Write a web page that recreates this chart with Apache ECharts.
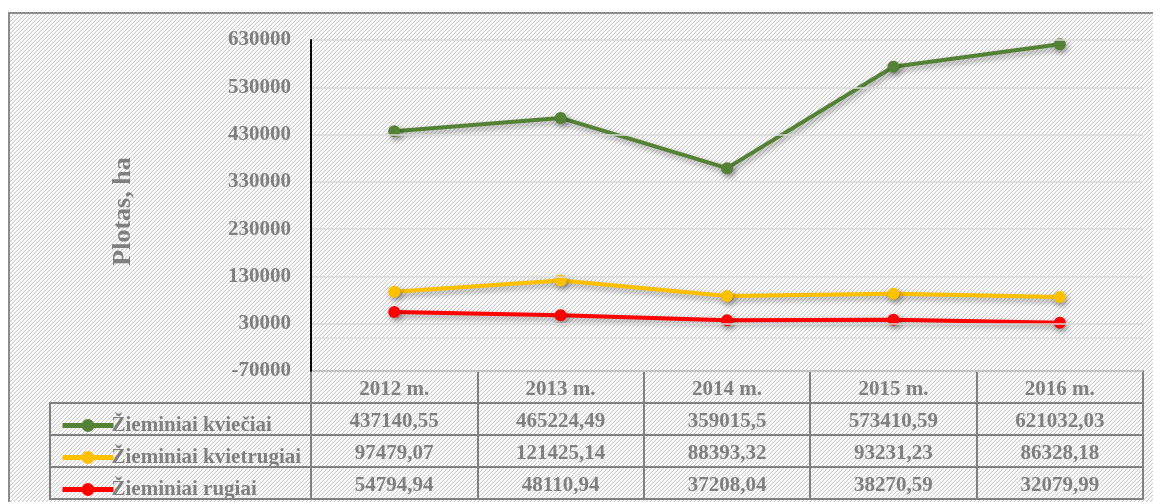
<!DOCTYPE html>
<html>
<head>
<meta charset="utf-8">
<script src="https://cdn.jsdelivr.net/npm/echarts@6/dist/echarts.min.js"></script>
<style>
  html, body { margin: 0; padding: 0; background: #fff; }
  #chart { width: 1153px; height: 502px; }
</style>
</head>
<body>
<div id="chart"></div>
<script>
// duomenys
const years = ['2012 m.', '2013 m.', '2014 m.', '2015 m.', '2016 m.']
const kvieciai = [437140.55, 465224.49, 359015.5, 573410.59, 621032.03]
const kvietrugiai = [97479.07, 121425.14, 88393.32, 93231.23, 86328.18]
const rugiai = [54794.94, 48110.94, 37208.04, 38270.59, 32079.99]
const seriesNames = ['Žieminiai kviečiai', 'Žieminiai kvietrugiai', 'Žieminiai rugiai']
const seriesColors = ['#548235', '#ffc000', '#ff0000']

const fontFam = "'Liberation Serif', 'Times New Roman', serif"
const txtColor = '#7f7f7f'
const tableLine = '#808080'

// lt formatas: kablelis vietoj taško
const fmt = (v) => String(v).replace('.', ',')

// įstrižų linijų fonas
const makeHatch = () => {
  const c = document.createElement('canvas')
  c.width = 4
  c.height = 4
  const ctx = c.getContext('2d')
  const img = ctx.createImageData(4, 4)
  for (let y = 0; y < 4; y++) {
    for (let x = 0; x < 4; x++) {
      const i = (y * 4 + x) * 4
      const d = (x + y) % 4
      const v = d === 3 ? 205 : d === 2 ? 238 : 255
      img.data[i] = v
      img.data[i + 1] = v
      img.data[i + 2] = v
      img.data[i + 3] = 255
    }
  }
  ctx.putImageData(img, 0, 0)
  return c
}

const labelStyle = { fontFamily: fontFam, fontWeight: 'bold', fontSize: 21, color: txtColor }
const shadow = { shadowColor: 'rgba(0,0,0,0.4)', shadowBlur: 6, shadowOffsetX: 2, shadowOffsetY: 3 }

const makeSeries = (name, data, color) => ({
  name: name,
  type: 'line',
  data: data,
  symbol: 'circle',
  symbolSize: 12,
  color: color,
  lineStyle: Object.assign({ width: 4 }, shadow),
  itemStyle: Object.assign({}, shadow),
  emphasis: { disabled: true },
})

// legenda kiekvienai eilutei atskirai
const makeLegend = (name, top) => ({
  orient: 'horizontal',
  left: 55,
  top: top,
  itemWidth: 51,
  itemHeight: 16,
  selectedMode: false,
  data: [name],
  lineStyle: { width: 5, shadowBlur: 0, shadowOffsetX: 0, shadowOffsetY: 0 },
  itemStyle: { shadowBlur: 0, shadowOffsetX: 0, shadowOffsetY: 0 },
  textStyle: { fontFamily: fontFam, fontWeight: 'bold', fontSize: 21, color: txtColor, padding: [0, 0, 0, -7] },
})

// lentelės eilutės kaip papildomos x ašys
const rowAxis = (values, offset) => ({
  type: 'category',
  position: 'bottom',
  offset: offset,
  data: values.map(fmt),
  axisLine: { show: true, onZero: false, lineStyle: { color: tableLine, width: 2 } },
  axisTick: { show: false },
  axisLabel: Object.assign({ interval: 0, margin: 8 }, labelStyle),
})

const option = {
  animation: false,
  backgroundColor: '#fff',
  grid: { left: 311, right: 10, top: 40, bottom: 131, outerBoundsMode: 'none' },
  legend: [
    makeLegend(seriesNames[0], 410),
    makeLegend(seriesNames[1], 442),
    makeLegend(seriesNames[2], 474),
  ],
  xAxis: [
    {
      type: 'category',
      position: 'bottom',
      data: years,
      axisLine: { show: true, onZero: false, lineStyle: { color: tableLine, width: 2 } },
      axisTick: { show: true, interval: 0, length: 128, lineStyle: { color: tableLine, width: 2 } },
      axisLabel: Object.assign({ interval: 0, margin: 8 }, labelStyle),
      splitLine: { show: false },
    },
    rowAxis(kvieciai, 32),
    rowAxis(kvietrugiai, 64),
    rowAxis(rugiai, 96),
    {
      type: 'category',
      position: 'bottom',
      offset: 128,
      data: years,
      axisLine: { show: true, onZero: false, lineStyle: { color: tableLine, width: 2 } },
      axisTick: { show: false },
      axisLabel: { show: false },
    },
    {
      // nulio linija
      type: 'category',
      position: 'bottom',
      data: years,
      axisLine: { show: true, onZero: true, lineStyle: { color: '#d9d9d9', width: 1.5 } },
      axisTick: { show: false },
      axisLabel: { show: false },
    },
  ],
  yAxis: {
    type: 'value',
    min: -70000,
    max: 630000,
    interval: 100000,
    name: 'Plotas, ha',
    nameLocation: 'middle',
    nameRotate: 90,
    nameGap: 175,
    nameTextStyle: { fontFamily: fontFam, fontWeight: 'bold', fontSize: 26, color: txtColor, padding: [0, 12, 0, 0] },
    axisLine: { show: true, onZero: false, lineStyle: { color: '#000', width: 2 } },
    axisTick: { show: false },
    axisLabel: Object.assign({ margin: 20, formatter: (v) => String(v) }, labelStyle),
    splitLine: { show: true, lineStyle: { color: '#d9d9d9', width: 1.5 } },
    z: 5,
  },
  graphic: [
    {
      type: 'rect',
      z: -100,
      silent: true,
      shape: { x: 10, y: 14, width: 1143, height: 488 },
      style: { fill: { image: makeHatch(), repeat: 'repeat' } },
    },
    {
      type: 'polyline',
      z: 100,
      silent: true,
      shape: { points: [[9, 502], [9, 13], [1153, 13]] },
      style: { stroke: '#8c8c8c', lineWidth: 2, fill: null },
    },
    {
      type: 'polyline',
      z: 100,
      silent: true,
      shape: { points: [[311, 403], [50, 403], [50, 499], [311, 499]] },
      style: { stroke: tableLine, lineWidth: 2, fill: null },
    },
    {
      type: 'line',
      z: 100,
      silent: true,
      shape: { x1: 50, y1: 435, x2: 311, y2: 435 },
      style: { stroke: tableLine, lineWidth: 2 },
    },
    {
      type: 'line',
      z: 100,
      silent: true,
      shape: { x1: 50, y1: 467, x2: 311, y2: 467 },
      style: { stroke: tableLine, lineWidth: 2 },
    },
  ],
  series: [
    makeSeries(seriesNames[0], kvieciai, seriesColors[0]),
    makeSeries(seriesNames[1], kvietrugiai, seriesColors[1]),
    makeSeries(seriesNames[2], rugiai, seriesColors[2]),
  ],
}

const myChart = echarts.init(document.getElementById('chart'))
myChart.setOption(option, true)
</script>
</body>
</html>
